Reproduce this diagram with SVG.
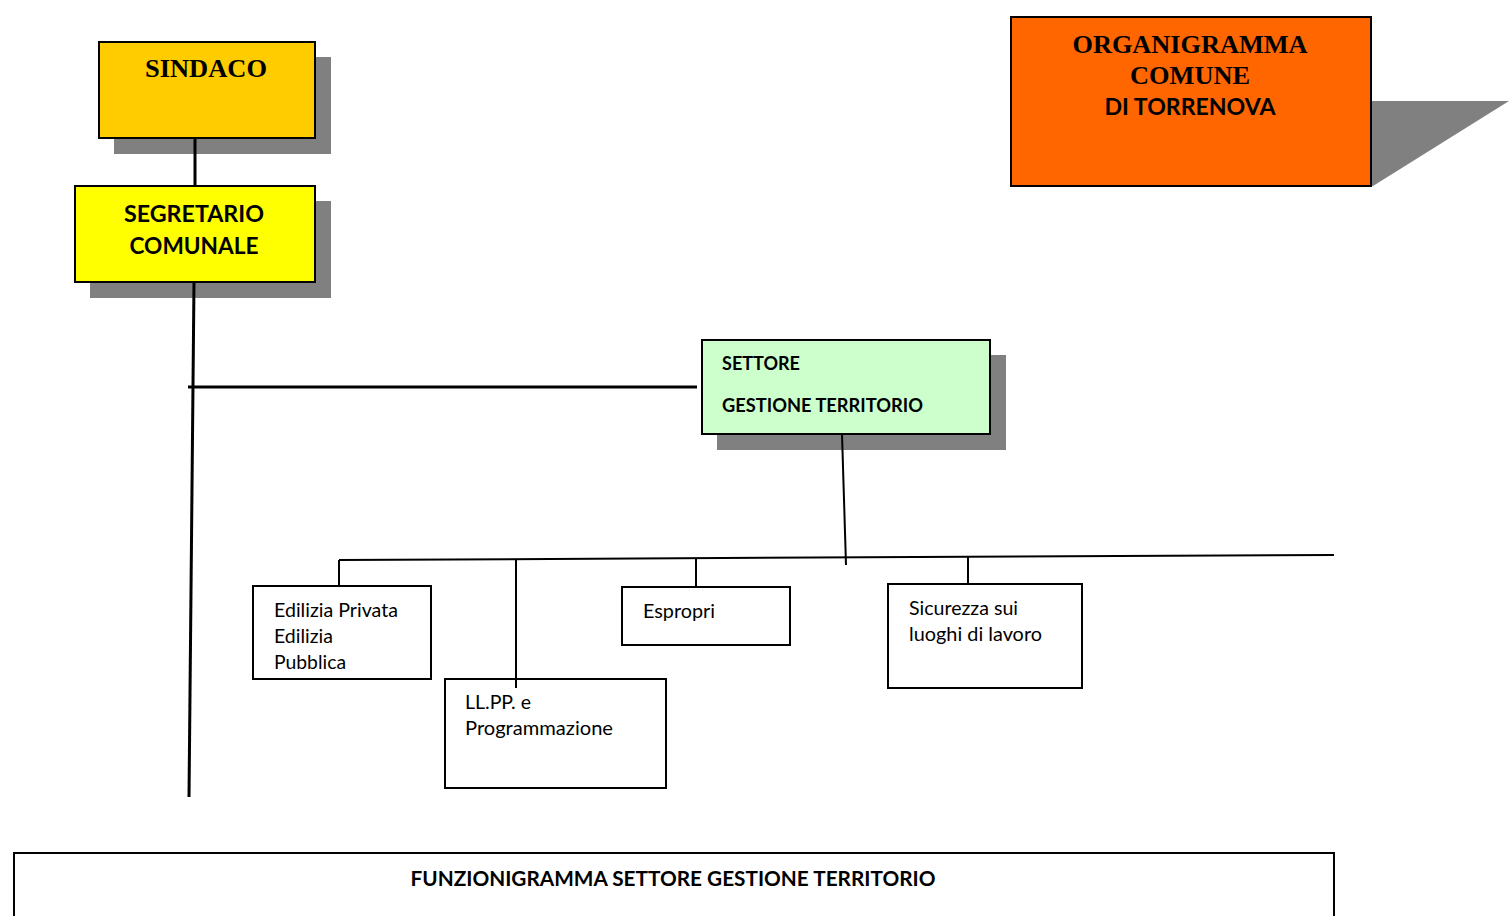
<svg xmlns="http://www.w3.org/2000/svg" width="1509" height="916" viewBox="0 0 1509 916">
<style>
.box{stroke:#000;stroke-width:2}
.sh{fill:#808080}
.ln{stroke:#000;fill:none}
.serif{font-family:"Liberation Serif","Times New Roman",serif;font-weight:bold;font-size:26px;fill:#000}
.bs{font-family:Lato,"Open Sans","Liberation Sans",sans-serif;font-weight:bold;fill:#000}
.rs{font-family:Lato,"Open Sans","Liberation Sans",sans-serif;font-size:19px;fill:#000}
</style>
<rect width="1509" height="916" fill="#fff"/>
<g id="sindaco">
<rect class="sh" x="114" y="57" width="217" height="97"/>
<rect class="box" x="99" y="42" width="216" height="96" fill="#FFCC00"/>
<text class="serif" x="206" y="77" text-anchor="middle" textLength="122" lengthAdjust="spacingAndGlyphs">SINDACO</text>
</g>
<g id="segretario">
<rect class="sh" x="90" y="201" width="241" height="97"/>
<rect class="box" x="75" y="186" width="240" height="96" fill="#FFFF00"/>
<text class="bs" font-size="22" x="194" y="222" text-anchor="middle" textLength="140" lengthAdjust="spacingAndGlyphs">SEGRETARIO</text>
<text class="bs" font-size="22" x="194" y="254" text-anchor="middle" textLength="129" lengthAdjust="spacingAndGlyphs">COMUNALE</text>
</g>
<g id="organigramma">
<polygon class="sh" points="1371,101 1509,101 1373,186 1371,186"/>
<rect class="box" x="1011" y="17" width="360" height="169" fill="#FF6600"/>
<text class="serif" x="1190" y="53" text-anchor="middle" textLength="235" lengthAdjust="spacingAndGlyphs">ORGANIGRAMMA</text>
<text class="serif" x="1190" y="84" text-anchor="middle" textLength="120" lengthAdjust="spacingAndGlyphs">COMUNE</text>
<text class="bs" font-size="22" x="1190" y="115" text-anchor="middle" textLength="171" lengthAdjust="spacingAndGlyphs">DI TORRENOVA</text>
</g>
<g id="settore">
<rect class="sh" x="717" y="355" width="289" height="95"/>
<rect class="box" x="702" y="340" width="288" height="94" fill="#CCFFCC"/>
<text class="bs" font-size="18" x="722" y="370" textLength="78" lengthAdjust="spacingAndGlyphs">SETTORE</text>
<text class="bs" font-size="18" x="722" y="412" textLength="201" lengthAdjust="spacingAndGlyphs">GESTIONE TERRITORIO</text>
</g>
<g id="edilizia">
<rect class="box" x="253" y="586" width="178" height="93" fill="#fff"/>
<text class="rs" x="274" y="617" textLength="124" lengthAdjust="spacingAndGlyphs">Edilizia Privata</text>
<text class="rs" x="274" y="643" textLength="59" lengthAdjust="spacingAndGlyphs">Edilizia</text>
<text class="rs" x="274" y="669" textLength="72" lengthAdjust="spacingAndGlyphs">Pubblica</text>
</g>
<g id="llpp">
<rect class="box" x="445" y="679" width="221" height="109" fill="#fff"/>
<text class="rs" x="465" y="709" textLength="66" lengthAdjust="spacingAndGlyphs">LL.PP. e</text>
<text class="rs" x="465" y="735" textLength="148" lengthAdjust="spacingAndGlyphs">Programmazione</text>
</g>
<g id="espropri">
<rect class="box" x="622" y="587" width="168" height="58" fill="#fff"/>
<text class="rs" x="643" y="618" textLength="72" lengthAdjust="spacingAndGlyphs">Espropri</text>
</g>
<g id="sicurezza">
<rect class="box" x="888" y="584" width="194" height="104" fill="#fff"/>
<text class="rs" x="909" y="615" textLength="109" lengthAdjust="spacingAndGlyphs">Sicurezza sui</text>
<text class="rs" x="909" y="641" textLength="133" lengthAdjust="spacingAndGlyphs">luoghi di lavoro</text>
</g>
<g id="funzionigramma">
<rect class="box" x="14" y="853" width="1320" height="80" fill="#fff"/>
<text class="bs" font-size="20" x="673" y="886" text-anchor="middle" textLength="525" lengthAdjust="spacingAndGlyphs">FUNZIONIGRAMMA SETTORE GESTIONE TERRITORIO</text>
</g>
<g id="connectors">
<line class="ln" x1="195" y1="138" x2="195" y2="186" stroke-width="3"/>
<line class="ln" x1="194" y1="282" x2="189" y2="797" stroke-width="3"/>
<line class="ln" x1="188" y1="387" x2="697" y2="387" stroke-width="3"/>
<line class="ln" x1="842" y1="434" x2="846" y2="565" stroke-width="2"/>
<line class="ln" x1="339" y1="560" x2="1334" y2="555" stroke-width="2"/>
<line class="ln" x1="339" y1="560" x2="339" y2="586" stroke-width="2"/>
<line class="ln" x1="516" y1="559" x2="516" y2="688" stroke-width="2"/>
<line class="ln" x1="696" y1="559" x2="696" y2="587" stroke-width="2"/>
<line class="ln" x1="968" y1="557" x2="968" y2="584" stroke-width="2"/>
</g>
</svg>
